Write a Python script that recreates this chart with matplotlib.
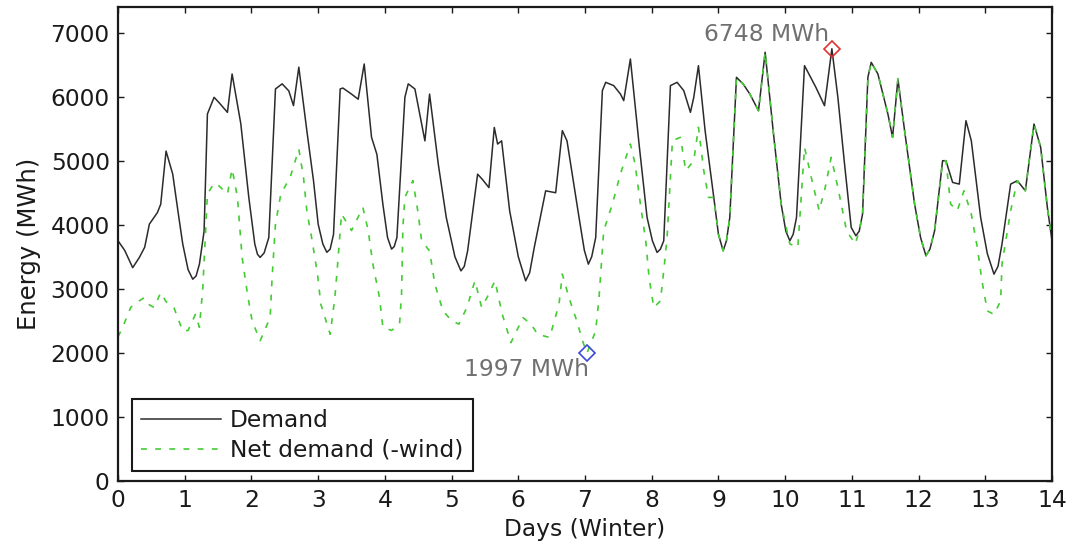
import matplotlib
matplotlib.use("Agg")
import matplotlib.pyplot as plt

# Demand profile over two winter weeks (day, MWh)
demand_days = [0.00, 0.10, 0.22, 0.32, 0.40, 0.47, 0.59, 0.64, 0.72, 0.82, 0.90, 0.97,
               1.05, 1.12, 1.17, 1.22, 1.29, 1.34, 1.44, 1.52, 1.64, 1.71, 1.84, 1.96,
               2.05, 2.09, 2.13, 2.19, 2.26, 2.36, 2.46, 2.56, 2.63, 2.71, 2.83, 2.93,
               3.00, 3.07, 3.13, 3.18, 3.23, 3.33, 3.37, 3.50, 3.60, 3.69, 3.80, 3.88, 3.97,
               4.04, 4.10, 4.14, 4.18, 4.30, 4.35, 4.45, 4.60, 4.67, 4.80, 4.92,
               5.05, 5.14, 5.19, 5.24, 5.39, 5.46, 5.56, 5.64, 5.69, 5.75, 5.87,
               6.00, 6.11, 6.17, 6.24, 6.41, 6.56, 6.66, 6.73, 6.91,
               6.99, 7.05, 7.10, 7.16, 7.26, 7.31, 7.43, 7.53, 7.58, 7.68, 7.81, 7.93,
               8.01, 8.08, 8.13, 8.18, 8.28, 8.38, 8.48, 8.58, 8.63, 8.70, 8.80, 8.93,
               9.00, 9.07, 9.12, 9.17, 9.27, 9.37, 9.47, 9.60, 9.70, 9.82, 9.94,
               10.01, 10.07, 10.12, 10.17, 10.29, 10.46, 10.59, 10.70, 10.79, 10.89, 10.99,
               11.06, 11.11, 11.16, 11.24, 11.29, 11.39, 11.54, 11.61, 11.69, 11.79, 11.94,
               12.03, 12.11, 12.17, 12.24, 12.36, 12.41, 12.51, 12.61, 12.71, 12.79, 12.93,
               13.03, 13.13, 13.19, 13.25, 13.38, 13.48, 13.60, 13.73, 13.83, 13.93, 14.00]
demand_mwh = [3750, 3600, 3330, 3490, 3650, 4010, 4190, 4320, 5150, 4790, 4200, 3700,
              3300, 3150, 3200, 3385, 3900, 5730, 5990, 5900, 5755, 6354, 5580, 4430,
              3700, 3540, 3490, 3560, 3800, 6120, 6200, 6090, 5860, 6460, 5470, 4690,
              4010, 3700, 3570, 3620, 3850, 6120, 6135, 6040, 5960, 6510, 5365, 5100, 4320,
              3800, 3620, 3660, 3800, 5990, 6200, 6120, 5310, 6040, 4950, 4115,
              3500, 3280, 3350, 3590, 4790, 4710, 4580, 5520, 5260, 5310, 4220,
              3500, 3125, 3250, 3650, 4530, 4500, 5470, 5310, 4115,
              3600, 3385, 3500, 3800, 6094, 6224, 6172, 6042, 5938, 6588, 5260, 4115,
              3750, 3568, 3620, 3750, 6172, 6224, 6094, 5755, 5990, 6484, 5469, 4427,
              3850, 3594, 3750, 4115, 6302, 6198, 6042, 5781, 6693, 5469, 4323,
              3900, 3750, 3850, 4115, 6484, 6146, 5859, 6748, 5990, 4948, 3958,
              3828, 3900, 4167, 6302, 6536, 6354, 5729, 5365, 6276, 5469, 4323,
              3800, 3516, 3620, 3906, 5000, 5000, 4661, 4635, 5625, 5313, 4115,
              3550, 3229, 3350, 3698, 4635, 4688, 4531, 5573, 5208, 4271, 3750]

# Demand minus wind generation (day, MWh)
net_days = [0.00, 0.07, 0.19, 0.30, 0.39, 0.47, 0.54, 0.64, 0.72, 0.84, 0.97,
            1.05, 1.16, 1.22, 1.27, 1.34, 1.44, 1.51, 1.64, 1.71, 1.79, 1.86, 1.94,
            2.01, 2.13, 2.28, 2.31, 2.36, 2.44, 2.58, 2.71, 2.78, 2.83, 2.91, 2.99,
            3.04, 3.18, 3.25, 3.28, 3.35, 3.50, 3.67, 3.75, 3.82, 3.92, 3.97,
            4.10, 4.22, 4.25, 4.27, 4.30, 4.42, 4.50, 4.55, 4.67, 4.75, 4.87,
            5.00, 5.11, 5.23, 5.35, 5.45, 5.55, 5.65, 5.76, 5.89,
            6.07, 6.19, 6.29, 6.47, 6.61, 6.66, 6.76, 6.86, 6.98,
            7.03, 7.16, 7.21, 7.28, 7.41, 7.53, 7.68, 7.75, 7.83, 7.91, 7.96,
            8.03, 8.13, 8.18, 8.23, 8.31, 8.43, 8.51, 8.63, 8.70, 8.78, 8.85, 8.93,
            9.00, 9.07, 9.12, 9.17, 9.27, 9.37, 9.47, 9.60, 9.70, 9.82, 9.94,
            10.07, 10.19, 10.29, 10.40, 10.51, 10.60, 10.69, 10.79, 10.84, 10.92,
            11.05, 11.11, 11.16, 11.24, 11.29, 11.39, 11.54, 11.61, 11.69, 11.79, 11.94,
            12.03, 12.11, 12.17, 12.24, 12.36, 12.41, 12.48, 12.58, 12.68, 12.79, 12.88, 12.95,
            13.03, 13.13, 13.23, 13.25, 13.38, 13.48, 13.60, 13.73, 13.83, 13.93, 14.00]
net_mwh = [2250, 2400, 2710, 2800, 2860, 2750, 2710, 2940, 2800, 2700, 2340,
           2350, 2600, 2400, 3000, 4480, 4650, 4610, 4480, 4870, 4430, 3490, 2920,
           2500, 2190, 2550, 3180, 4010, 4480, 4740, 5180, 4740, 4220, 3750, 3230,
           2760, 2290, 2860, 3230, 4170, 3910, 4270, 3910, 3385, 2860, 2400,
           2350, 2450, 2920, 3960, 4430, 4690, 4170, 3750, 3590, 3070, 2660,
           2500, 2450, 2710, 3125, 2710, 2900, 3125, 2600, 2160,
           2550, 2450, 2290, 2240, 2760, 3230, 2860, 2550, 2135,
           1997, 2344, 2864, 3906, 4323, 4792, 5260, 4948, 4323, 3750, 3177,
           2708, 2812, 3281, 3802, 5313, 5365, 4844, 5000, 5521, 4844, 4427, 4427,
           3850, 3594, 3750, 4115, 6302, 6198, 6042, 5781, 6693, 5469, 4323,
           3700, 3646, 5208, 4700, 4219, 4580, 5052, 4583, 4323, 3906,
           3700, 3900, 4167, 6302, 6536, 6354, 5729, 5365, 6276, 5469, 4323,
           3800, 3516, 3620, 3906, 5000, 5000, 4323, 4219, 4531, 4167, 3646, 3125,
           2656, 2600, 2812, 3385, 4219, 4688, 4531, 5573, 5208, 4271, 3750]

peak_day, peak_mwh = 10.70, 6748
low_day, low_mwh = 7.03, 1997

plt.rcParams["font.family"] = ["DejaVu Sans"]
fs = 16.8

fig = plt.figure(figsize=(10.70, 5.50), dpi=100)
ax = fig.add_axes([0.1103, 0.1255, 0.8729, 0.8618])

ax.plot(demand_days, demand_mwh, color="#2b2b2b", lw=1.1, label="Demand")
ax.plot(net_days, net_mwh, color="#44cc33", lw=1.2, linestyle=(0, (3.5, 5)),
        label="Net demand (-wind)")

ax.plot([peak_day], [peak_mwh], marker="D", ms=8, mfc="none", mec="#e03030", mew=1.2)
ax.plot([low_day], [low_mwh], marker="D", ms=8, mfc="none", mec="#3a4ad8", mew=1.2)
ax.annotate(f"{peak_mwh} MWh", xy=(peak_day, peak_mwh), xytext=(-3, 14),
            textcoords="offset pixels", ha="right", va="center",
            fontsize=fs, color="#707070")
ax.annotate(f"{low_mwh} MWh", xy=(low_day, low_mwh), xytext=(2, -16),
            textcoords="offset pixels", ha="right", va="center",
            fontsize=fs, color="#707070")

ax.set_xlim(0, 14)
ax.set_ylim(0, 7400)
ax.set_xticks(range(0, 15))
ax.set_yticks(range(0, 7001, 1000))
ax.tick_params(direction="in", top=True, right=True, length=4, width=1,
               labelsize=fs, pad=6, colors="#1a1a1a")
for sp in ax.spines.values():
    sp.set_linewidth(1.6)
    sp.set_color("#1a1a1a")

ax.set_xlabel("Days (Winter)", fontsize=fs, color="#1a1a1a", labelpad=4)
ax.set_ylabel("Energy (MWh)", fontsize=17.5, color="#1a1a1a", labelpad=7)

leg = ax.legend(loc="lower left", bbox_to_anchor=(0.015, 0.021), borderaxespad=0,
                fontsize=fs, frameon=True, fancybox=False, framealpha=1,
                edgecolor="#1a1a1a", borderpad=0.4, labelspacing=0.3,
                handlelength=3.4, handletextpad=0.4)
leg.get_frame().set_linewidth(1.5)
for t in leg.get_texts():
    t.set_color("#1a1a1a")

fig.savefig("out.png", dpi=100)
